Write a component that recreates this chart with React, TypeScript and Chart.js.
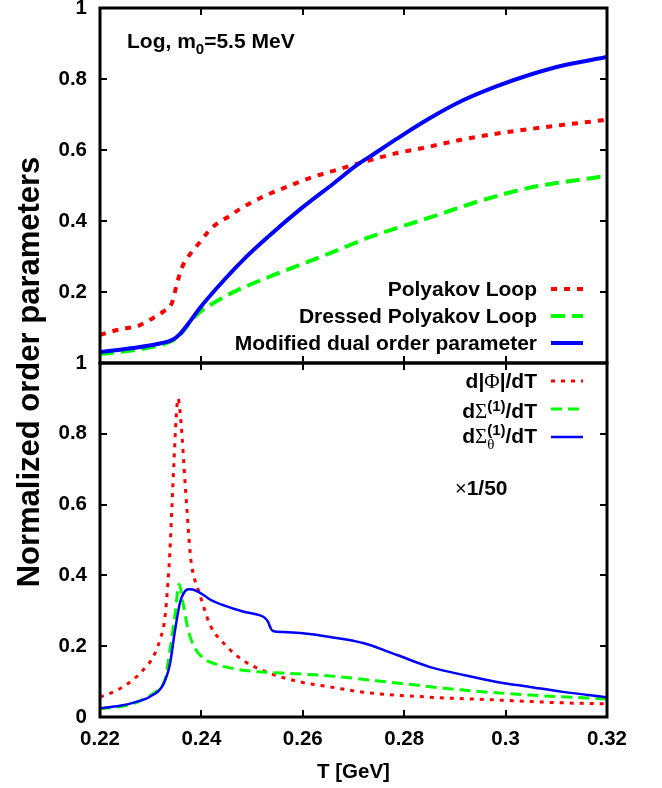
import React, { useEffect, useRef } from 'react';
import { Chart, registerables } from 'chart.js';

Chart.register(...registerables);

const W = 662;
const H = 788;
const FONT = "'Liberation Sans', Arial, Helvetica, sans-serif";
const SERIF = "'Liberation Serif', 'DejaVu Serif', serif";

const X_MIN = 0.22;
const X_MAX = 0.32;
const X_TICKS = [0.22, 0.24, 0.26, 0.28, 0.3, 0.32];
const Y_TICKS = [0, 0.2, 0.4, 0.6, 0.8, 1];

// ---- top panel: normalized order parameters ----
const polyakovT = [0.22, 0.2234, 0.2279, 0.2305, 0.2324, 0.2342, 0.2352, 0.2362, 0.2381, 0.2397, 0.2413, 0.2432, 0.2456, 0.2476, 0.2521, 0.2568, 0.262, 0.2667, 0.2712, 0.2779, 0.2845, 0.291, 0.2977, 0.3043, 0.3108, 0.3191, 0.32];
const polyakovV = [0.079, 0.093, 0.107, 0.127, 0.144, 0.17, 0.225, 0.27, 0.313, 0.34, 0.369, 0.394, 0.414, 0.434, 0.468, 0.496, 0.524, 0.544, 0.563, 0.589, 0.608, 0.628, 0.645, 0.658, 0.67, 0.684, 0.686];

const dressedT = [0.22, 0.2265, 0.2318, 0.2344, 0.2358, 0.2378, 0.2391, 0.2431, 0.2462, 0.2529, 0.2594, 0.266, 0.2733, 0.2851, 0.2955, 0.3048, 0.3125, 0.32];
const dressedV = [0.025, 0.036, 0.05, 0.064, 0.08, 0.115, 0.136, 0.175, 0.199, 0.24, 0.276, 0.313, 0.355, 0.41, 0.459, 0.494, 0.512, 0.527];

const dualT = [0.22, 0.2265, 0.2318, 0.2344, 0.2358, 0.2378, 0.2397, 0.2431, 0.2482, 0.2535, 0.2594, 0.266, 0.2707, 0.2733, 0.2786, 0.2851, 0.2916, 0.2983, 0.3048, 0.3113, 0.32];
const dualV = [0.031, 0.042, 0.055, 0.066, 0.082, 0.118, 0.155, 0.212, 0.29, 0.36, 0.432, 0.505, 0.558, 0.582, 0.632, 0.69, 0.74, 0.78, 0.812, 0.838, 0.862];

// ---- bottom panel: temperature derivatives ----
const dPhiT = [0.22, 0.2234, 0.2265, 0.2285, 0.2305, 0.2318, 0.2328, 0.2334, 0.2338, 0.2342, 0.2346, 0.235, 0.2354, 0.2358, 0.2362, 0.2366, 0.2372, 0.2378, 0.2383, 0.2391, 0.2397, 0.2407, 0.2417, 0.2451, 0.2482, 0.2529, 0.2595, 0.2654, 0.2719, 0.2851, 0.2983, 0.3113, 0.32];
const dPhiV = [0.056, 0.076, 0.105, 0.133, 0.17, 0.217, 0.28, 0.38, 0.47, 0.6, 0.725, 0.84, 0.9, 0.86, 0.79, 0.7, 0.575, 0.46, 0.41, 0.37, 0.345, 0.3, 0.26, 0.198, 0.16, 0.127, 0.099, 0.085, 0.07, 0.056, 0.048, 0.04, 0.037];

const dSigT = [0.22, 0.2259, 0.2285, 0.2309, 0.2318, 0.2328, 0.2338, 0.2348, 0.2356, 0.2364, 0.2374, 0.2387, 0.2403, 0.2431, 0.247, 0.251, 0.2561, 0.2654, 0.2786, 0.2916, 0.3048, 0.32];
const dSigV = [0.023, 0.035, 0.05, 0.07, 0.082, 0.105, 0.19, 0.29, 0.375, 0.32, 0.245, 0.195, 0.167, 0.148, 0.135, 0.128, 0.124, 0.116, 0.096, 0.076, 0.062, 0.051];

const dSigThT = [0.22, 0.2239, 0.2265, 0.2299, 0.2324, 0.2338, 0.2348, 0.2358, 0.2366, 0.2374, 0.2383, 0.2393, 0.2407, 0.2417, 0.2443, 0.2482, 0.2516, 0.2525, 0.2531, 0.2537, 0.2541, 0.2561, 0.2595, 0.2654, 0.2719, 0.2786, 0.2851, 0.2916, 0.2983, 0.3048, 0.3113, 0.32];
const dSigThV = [0.025, 0.032, 0.04, 0.058, 0.09, 0.15, 0.245, 0.325, 0.352, 0.361, 0.36, 0.354, 0.342, 0.332, 0.316, 0.298, 0.287, 0.28, 0.27, 0.25, 0.243, 0.24, 0.237, 0.226, 0.209, 0.175, 0.141, 0.119, 0.099, 0.085, 0.071, 0.056];

const TOP_LABELS = ['Polyakov Loop', 'Dressed Polyakov Loop', 'Modified dual order parameter'];
const BOTTOM_LABELS = ['d|\u03A6|/dT', 'd\u03A3(1)/dT', 'd\u03A3\u03B8(1)/dT'];
const Y_TITLE = 'Normalized order parameters';
const X_TITLE = 'T [GeV]';

const RED = '#ff0000';
const GREEN = '#00ff00';
const BLUE = '#0000ff';

type Seg = { t: string; f: string; dy?: number; under?: { t: string; f: string; dy: number } };

function segWidth(ctx: CanvasRenderingContext2D, s: Seg) {
  ctx.font = s.f;
  let w = ctx.measureText(s.t).width;
  if (s.under) {
    ctx.font = s.under.f;
    w = Math.max(w, ctx.measureText(s.under.t).width);
  }
  return w;
}

function drawRich(ctx: CanvasRenderingContext2D, segs: Seg[], x: number, y: number, align: 'left' | 'right') {
  const total = segs.reduce((a, s) => a + segWidth(ctx, s), 0);
  let cx = align === 'right' ? x - total : x;
  ctx.textAlign = 'left';
  ctx.textBaseline = 'alphabetic';
  ctx.fillStyle = '#000';
  for (const s of segs) {
    const w = segWidth(ctx, s);
    ctx.font = s.f;
    ctx.fillText(s.t, cx, y + (s.dy || 0));
    if (s.under) {
      ctx.font = s.under.f;
      ctx.fillText(s.under.t, cx, y + s.under.dy);
    }
    cx += w;
  }
}

const B21 = `bold 21px ${FONT}`;
const B15 = `bold 15px ${FONT}`;
const S21 = `21px ${SERIF}`;

const pts = (T: number[], V: number[]) => T.map((t, i) => ({ x: t, y: V[i] }));

function dataset(label: string, T: number[], V: number[], color: string, width: number, dash: number[], order: number) {
  return {
    label,
    data: pts(T, V),
    borderColor: color,
    backgroundColor: color,
    borderWidth: width,
    borderDash: dash,
    borderCapStyle: 'butt',
    pointRadius: 0,
    pointHoverRadius: 0,
    fill: false,
    cubicInterpolationMode: 'monotone',
    order,
  };
}

const TICK_FONT = { family: FONT, size: 20.5, weight: 'bold' };

function yAxis(hideZero: boolean) {
  return {
    type: 'linear',
    min: 0,
    max: 1,
    ticks: {
      stepSize: 0.2,
      padding: 13,
      color: '#000',
      font: TICK_FONT,
      callback: (v: number) => (hideZero && Math.abs(v) < 1e-9 ? '' : String(Number(Number(v).toFixed(1)))),
    },
    grid: { display: false, drawTicks: false },
    border: { display: false },
    afterFit: (s: any) => {
      s.width = 100;
      s.paddingTop = 0;
      s.paddingBottom = 0;
    },
  };
}

const framePlugin = {
  id: 'frameTicks',
  afterDraw(chart: any) {
    const { ctx, chartArea: a, scales } = chart;
    const xs = scales.x;
    const ys = scales.y;
    ctx.save();
    ctx.strokeStyle = '#000';
    ctx.lineWidth = 3;
    ctx.strokeRect(a.left, a.top, a.right - a.left, a.bottom - a.top);
    ctx.lineWidth = 2;
    const tl = 7;
    ctx.beginPath();
    for (const v of Y_TICKS.slice(1, -1)) {
      const y = Math.round(ys.getPixelForValue(v));
      ctx.moveTo(a.left, y);
      ctx.lineTo(a.left + tl, y);
      ctx.moveTo(a.right, y);
      ctx.lineTo(a.right - tl, y);
    }
    for (const v of X_TICKS.slice(1, -1)) {
      const x = Math.round(xs.getPixelForValue(v));
      ctx.moveTo(x, a.top);
      ctx.lineTo(x, a.top + tl);
      ctx.moveTo(x, a.bottom);
      ctx.lineTo(x, a.bottom - tl);
    }
    ctx.stroke();
    ctx.restore();
  },
};

function drawSample(ctx: CanvasRenderingContext2D, ds: any, y: number) {
  ctx.save();
  ctx.strokeStyle = ds.borderColor;
  ctx.lineWidth = ds.borderWidth;
  ctx.lineCap = 'butt';
  ctx.setLineDash(ds.borderDash || []);
  ctx.beginPath();
  ctx.moveTo(551, y);
  ctx.lineTo(583, y);
  ctx.stroke();
  ctx.restore();
}

const topTextPlugin = {
  id: 'topText',
  afterDraw(chart: any) {
    const ctx: CanvasRenderingContext2D = chart.ctx;
    ctx.save();
    drawRich(ctx, [
      { t: 'Log, m', f: B21 },
      { t: '0', f: B15, dy: 6 },
      { t: '=5.5 MeV', f: B21 },
    ], 127, 48, 'left');
    const ys = [289, 316, 343];
    chart.data.datasets.forEach((ds: any) => {
      const idx = TOP_LABELS.indexOf(ds.label);
      drawRich(ctx, [{ t: ds.label, f: B21 }], 537, ys[idx] + 7, 'right');
      drawSample(ctx, ds, ys[idx]);
    });
    ctx.restore();
  },
};

const bottomTextPlugin = {
  id: 'bottomText',
  afterDraw(chart: any) {
    const ctx: CanvasRenderingContext2D = chart.ctx;
    ctx.save();
    const legendSegs: Seg[][] = [
      [{ t: 'd|', f: B21 }, { t: '\u03A6', f: S21 }, { t: '|/dT', f: B21 }],
      [{ t: 'd', f: B21 }, { t: '\u03A3', f: S21 }, { t: '(1)', f: B15, dy: -7 }, { t: '/dT', f: B21 }],
      [
        { t: 'd', f: B21 },
        { t: '\u03A3', f: S21 },
        { t: '(1)', f: B15, dy: -8, under: { t: '\u03B8', f: `15px ${SERIF}`, dy: 6 } },
        { t: '/dT', f: B21 },
      ],
    ];
    const sampleY = [381, 409, 437];
    const baseY = [388, 418, 443];
    chart.data.datasets.forEach((ds: any) => {
      const idx = BOTTOM_LABELS.indexOf(ds.label);
      drawRich(ctx, legendSegs[idx], 537, baseY[idx], 'right');
      drawSample(ctx, ds, sampleY[idx]);
    });
    drawRich(ctx, [
      { t: '\u00D7', f: `20px ${FONT}` },
      { t: '1/50', f: B21 },
    ], 455, 495, 'left');
    // shared y-axis title spanning both panels
    ctx.translate(30, 372);
    ctx.rotate(-Math.PI / 2);
    ctx.font = `bold 31px ${FONT}`;
    ctx.fillStyle = '#000';
    ctx.textAlign = 'center';
    ctx.textBaseline = 'middle';
    ctx.fillText(Y_TITLE, 0, 0);
    ctx.restore();
  },
};

function topConfig(): any {
  return {
    type: 'line',
    data: {
      datasets: [
        dataset(TOP_LABELS[0], polyakovT, polyakovV, RED, 4, [6, 7], 2),
        dataset(TOP_LABELS[1], dressedT, dressedV, GREEN, 4, [14, 7], 1),
        dataset(TOP_LABELS[2], dualT, dualV, BLUE, 4, [], 0),
      ],
    },
    options: {
      responsive: false,
      animation: false,
      devicePixelRatio: 1,
      layout: { padding: { top: 8, right: 55, bottom: H - 363, left: 0 } },
      scales: {
        x: { type: 'linear', min: X_MIN, max: X_MAX, display: false, ticks: { stepSize: 0.02 } },
        y: yAxis(true),
      },
      plugins: { legend: { display: false }, tooltip: { enabled: false } },
      events: [],
    },
    plugins: [framePlugin, topTextPlugin],
  };
}

function bottomConfig(): any {
  return {
    type: 'line',
    data: {
      datasets: [
        dataset(BOTTOM_LABELS[0], dPhiT, dPhiV, RED, 3, [4, 6], 2),
        dataset(BOTTOM_LABELS[1], dSigT, dSigV, GREEN, 3, [11, 6], 1),
        dataset(BOTTOM_LABELS[2], dSigThT, dSigThV, BLUE, 2.5, [], 0),
      ],
    },
    options: {
      responsive: false,
      animation: false,
      devicePixelRatio: 1,
      layout: { padding: { top: 363, right: 55, bottom: 0, left: 0 } },
      scales: {
        x: {
          type: 'linear',
          min: X_MIN,
          max: X_MAX,
          ticks: {
            stepSize: 0.02,
            padding: 10,
            color: '#000',
            font: TICK_FONT,
            maxRotation: 0,
            callback: (v: number) => String(Number(Number(v).toFixed(2))),
          },
          grid: { display: false, drawTicks: false },
          border: { display: false },
          title: {
            display: true,
            text: X_TITLE,
            color: '#000',
            font: { family: FONT, size: 20.5, weight: 'bold' },
            padding: { top: 0, bottom: 3 },
          },
          afterFit: (s: any) => {
            s.height = 71;
            s.paddingLeft = 0;
            s.paddingRight = 0;
          },
        },
        y: yAxis(false),
      },
      plugins: { legend: { display: false }, tooltip: { enabled: false } },
      events: [],
    },
    plugins: [framePlugin, bottomTextPlugin],
  };
}

export default function App() {
  const topRef = useRef<HTMLCanvasElement>(null);
  const botRef = useRef<HTMLCanvasElement>(null);
  useEffect(() => {
    const top = new Chart(topRef.current as HTMLCanvasElement, topConfig());
    const bot = new Chart(botRef.current as HTMLCanvasElement, bottomConfig());
    return () => {
      top.destroy();
      bot.destroy();
    };
  }, []);
  return (
    <div style={{ position: 'absolute', left: 0, top: 0, width: W, height: H, background: '#fff' }}>
      <canvas ref={topRef} width={W} height={H} style={{ position: 'absolute', left: 0, top: 0 }} />
      <canvas ref={botRef} width={W} height={H} style={{ position: 'absolute', left: 0, top: 0 }} />
    </div>
  );
}
